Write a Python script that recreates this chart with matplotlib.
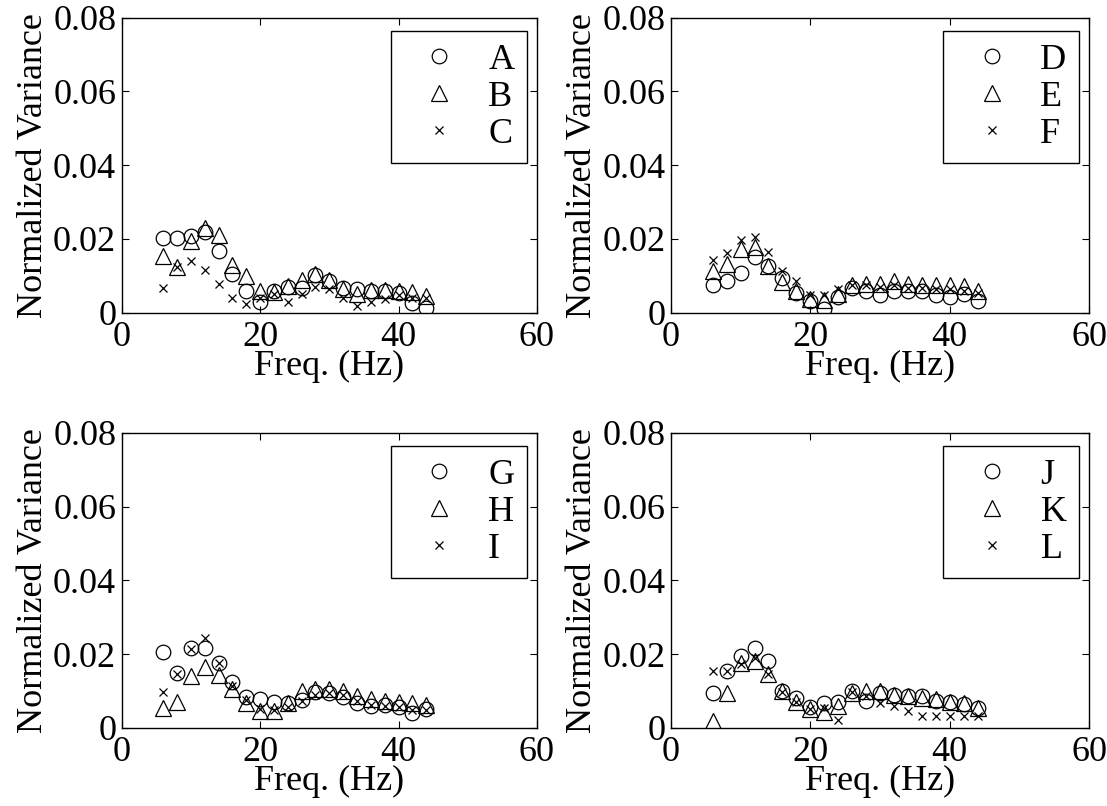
import matplotlib
matplotlib.use("Agg")
import matplotlib.pyplot as plt

plt.rcParams["font.family"] = ["Liberation Serif", "DejaVu Serif"]

freq = [6, 8, 10, 12, 14, 16, 18, 20, 22, 24, 26, 28, 30, 32, 34, 36, 38, 40, 42, 44]

# panel 1
a_vals = [0.0203, 0.0204, 0.0209, 0.0218, 0.0168, 0.0104, 0.0060, 0.0030, 0.0058, 0.0070,
          0.0068, 0.0103, 0.0085, 0.0067, 0.0063, 0.0060, 0.0060, 0.0053, 0.0027, 0.0013]
b_vals = [0.0155, 0.0125, 0.0195, 0.0230, 0.0210, 0.0130, 0.0100, 0.0060, 0.0055, 0.0072,
          0.0090, 0.0105, 0.0090, 0.0065, 0.0050, 0.0062, 0.0062, 0.0060, 0.0055, 0.0045]
c_vals = [0.0068, 0.0123, 0.0139, 0.0116, 0.0077, 0.0041, 0.0024, 0.0040, 0.0050, 0.0029,
          0.0050, 0.0070, 0.0065, 0.0040, 0.0018, 0.0030, 0.0038, 0.0047, 0.0040, 0.0040]

# panel 2
d_vals = [0.0076, 0.0087, 0.0108, 0.0152, 0.0126, 0.0094, 0.0054, 0.0031, 0.0009, 0.0042,
          0.0067, 0.0060, 0.0049, 0.0058, 0.0058, 0.0060, 0.0049, 0.0042, 0.0051, 0.0033]
e_vals = [0.0114, 0.0132, 0.0173, 0.0178, 0.0128, 0.0082, 0.0058, 0.0037, 0.0035, 0.0050,
          0.0074, 0.0079, 0.0079, 0.0085, 0.0078, 0.0074, 0.0074, 0.0074, 0.0072, 0.0060]
f_vals = [0.0144, 0.0162, 0.0198, 0.0205, 0.0166, 0.0114, 0.0085, 0.0049, 0.0047, 0.0063,
          0.0074, 0.0076, 0.0069, 0.0074, 0.0067, 0.0067, 0.0065, 0.0063, 0.0058, 0.0054]

# panel 3
g_vals = [0.0206, 0.0149, 0.0216, 0.0216, 0.0175, 0.0123, 0.0083, 0.0077, 0.0069, 0.0068,
          0.0076, 0.0096, 0.0094, 0.0083, 0.0067, 0.0058, 0.0062, 0.0056, 0.0040, 0.0051]
h_vals = [0.0054, 0.0070, 0.0140, 0.0164, 0.0142, 0.0104, 0.0067, 0.0045, 0.0045, 0.0068,
          0.0101, 0.0105, 0.0104, 0.0100, 0.0087, 0.0078, 0.0074, 0.0070, 0.0066, 0.0062]
i_vals = [0.0096, 0.0146, 0.0213, 0.0243, 0.0175, 0.0114, 0.0076, 0.0051, 0.0049, 0.0056,
          0.0074, 0.0090, 0.0094, 0.0090, 0.0074, 0.0062, 0.0060, 0.0056, 0.0047, 0.0049]

# panel 4
j_vals = [0.0094, 0.0155, 0.0195, 0.0216, 0.0180, 0.0101, 0.0080, 0.0056, 0.0067, 0.0069,
          0.0099, 0.0074, 0.0094, 0.0090, 0.0087, 0.0085, 0.0074, 0.0069, 0.0065, 0.0054]
k_vals = [0.0019, 0.0095, 0.0175, 0.0182, 0.0146, 0.0101, 0.0071, 0.0051, 0.0042, 0.0060,
          0.0095, 0.0099, 0.0100, 0.0090, 0.0086, 0.0082, 0.0077, 0.0070, 0.0066, 0.0055]
l_vals = [0.0155, 0.0155, 0.0173, 0.0190, 0.0146, 0.0096, 0.0069, 0.0051, 0.0053, 0.0020,
          0.0096, 0.0085, 0.0067, 0.0058, 0.0045, 0.0031, 0.0031, 0.0031, 0.0031, 0.0033]

panels = [
    (["A", "B", "C"], [a_vals, b_vals, c_vals]),
    (["D", "E", "F"], [d_vals, e_vals, f_vals]),
    (["G", "H", "I"], [g_vals, h_vals, i_vals]),
    (["J", "K", "L"], [j_vals, k_vals, l_vals]),
]

xticks = [0, 20, 40, 60]
yticks = [0, 0.02, 0.04, 0.06, 0.08]
ytick_labels = ["0", "0.02", "0.04", "0.06", "0.08"]

FS = 26
fig = plt.figure(figsize=(11.07, 8.06), dpi=100)

boxes = [
    [0.110, 0.612, 0.375, 0.366],
    [0.606, 0.612, 0.378, 0.366],
    [0.110, 0.097, 0.375, 0.366],
    [0.606, 0.097, 0.378, 0.366],
]

for box, (names, series) in zip(boxes, panels):
    ax = fig.add_axes(box)
    ax.plot(freq, series[0], linestyle="none", marker="o", markersize=10.5,
            markerfacecolor="none", markeredgecolor="black", markeredgewidth=0.9, label=names[0])
    ax.plot(freq, series[1], linestyle="none", marker="^", markersize=11,
            markerfacecolor="none", markeredgecolor="black", markeredgewidth=0.9, label=names[1])
    ax.plot(freq, series[2], linestyle="none", marker="x", markersize=6,
            markeredgecolor="black", markeredgewidth=0.9, label=names[2])

    ax.set_xlim(0, 60)
    ax.set_ylim(0, 0.08)
    ax.set_xticks(xticks)
    ax.set_xticklabels([str(t) for t in xticks])
    ax.set_yticks(yticks)
    ax.set_yticklabels(ytick_labels)
    ax.tick_params(direction="in", top=True, right=True, labelsize=FS, length=5, width=0.8)
    ax.tick_params(axis="x", pad=6)
    ax.tick_params(axis="y", pad=4)
    for sp in ax.spines.values():
        sp.set_linewidth(1.0)
    ax.set_xlabel("Freq. (Hz)", fontsize=FS, labelpad=-3)
    ax.set_ylabel("Normalized Variance", fontsize=FS, labelpad=2)

    leg = ax.legend(loc="upper right", bbox_to_anchor=(0.976, 0.955), fontsize=FS,
                    fancybox=False, framealpha=1, edgecolor="black", handlelength=2.0,
                    handletextpad=0.35, labelspacing=0.1, borderpad=0.35, borderaxespad=0)
    leg.get_frame().set_linewidth(1.0)

fig.savefig("out.png", dpi=100, facecolor="white")
